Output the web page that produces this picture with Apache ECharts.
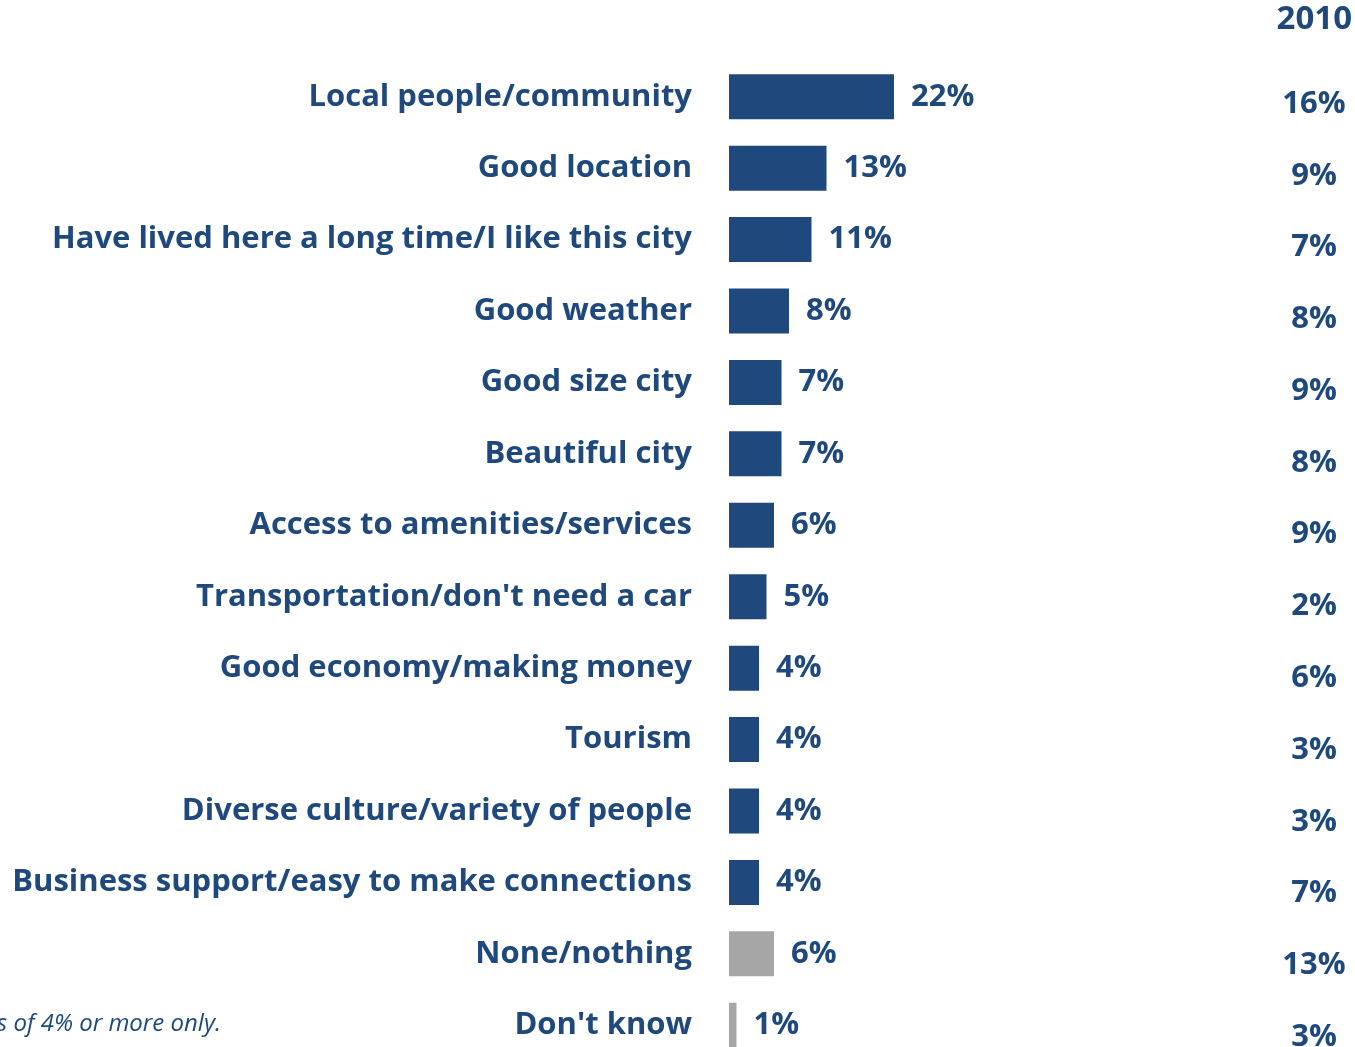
<!DOCTYPE html>
<html>
<head>
<meta charset="utf-8">
<script src="https://cdn.jsdelivr.net/npm/echarts@6/dist/echarts.min.js"></script>
<style>
  html, body { margin: 0; padding: 0; background: #fff; overflow: hidden; }
  #chart { width: 1355px; height: 1047px; }
</style>
</head>
<body>
<div id="chart"></div>
<script>
// Reasons for liking the city, share of responses
const categories = [
  'Local people/community',
  'Good location',
  'Have lived here a long time/I like this city',
  'Good weather',
  'Good size city',
  'Beautiful city',
  'Access to amenities/services',
  "Transportation/don't need a car",
  'Good economy/making money',
  'Tourism',
  'Diverse culture/variety of people',
  'Business support/easy to make connections',
  'None/nothing',
  "Don't know"
];
const current = [22, 13, 11, 8, 7, 7, 6, 5, 4, 4, 4, 4, 6, 1];
const year2010 = [16, 9, 7, 8, 9, 8, 9, 2, 6, 3, 3, 7, 13, 3];
const neutralCategories = ['None/nothing', "Don't know"];

const BLUE = '#1F497D';
const GRAY = '#A6A6A6';
const FONT = '"Open Sans"';
const SIZE = 31;

const chart = echarts.init(document.getElementById('chart'), null, { renderer: 'canvas' });

chart.setOption({
  backgroundColor: '#ffffff',
  animation: false,
  grid: [
    // current-year bars
    { left: 729, top: 61, width: 600, height: 1000, outerBoundsMode: 'none' },
    // 2010 comparison column
    { left: 729, top: 68, width: 600, height: 1005, outerBoundsMode: 'none' }
  ],
  xAxis: [
    { type: 'value', gridIndex: 0, min: 0, max: 80, show: false },
    { type: 'value', gridIndex: 1, min: 0, max: 80, show: false }
  ],
  yAxis: [
    {
      type: 'category',
      gridIndex: 0,
      inverse: true,
      data: categories,
      axisLine: { show: false },
      axisTick: { show: false },
      axisLabel: {
        margin: 37,
        color: BLUE,
        fontFamily: FONT,
        fontWeight: 'bold',
        fontSize: SIZE
      }
    },
    {
      type: 'category',
      gridIndex: 1,
      inverse: true,
      position: 'right',
      data: categories,
      axisLine: { show: false },
      axisTick: { show: false },
      axisLabel: {
        margin: -15,
        align: 'center',
        color: BLUE,
        fontFamily: FONT,
        fontWeight: 'bold',
        fontSize: SIZE,
        formatter: (v, i) => year2010[i] + '%'
      }
    }
  ],
  series: [
    {
      type: 'bar',
      xAxisIndex: 0,
      yAxisIndex: 0,
      barCategoryGap: '37%',
      data: current.map((v, i) => ({
        value: v,
        itemStyle: { color: neutralCategories.includes(categories[i]) ? GRAY : BLUE }
      })),
      label: {
        show: true,
        position: 'right',
        distance: 17,
        formatter: '{c}%',
        color: BLUE,
        fontFamily: FONT,
        fontWeight: 'bold',
        fontSize: SIZE
      }
    }
  ],
  graphic: [
    {
      // column header for the comparison year
      type: 'text',
      x: 1352,
      y: 20,
      style: {
        text: '2010',
        textAlign: 'right',
        textVerticalAlign: 'middle',
        fill: BLUE,
        font: 'bold 33px ' + FONT
      }
    },
    {
      type: 'text',
      x: 221,
      y: 1024,
      style: {
        text: 'Note: Showing responses of 4% or more only.',
        textAlign: 'right',
        textVerticalAlign: 'middle',
        fill: BLUE,
        font: 'italic 24px ' + FONT
      }
    }
  ]
});
</script>
</body>
</html>
